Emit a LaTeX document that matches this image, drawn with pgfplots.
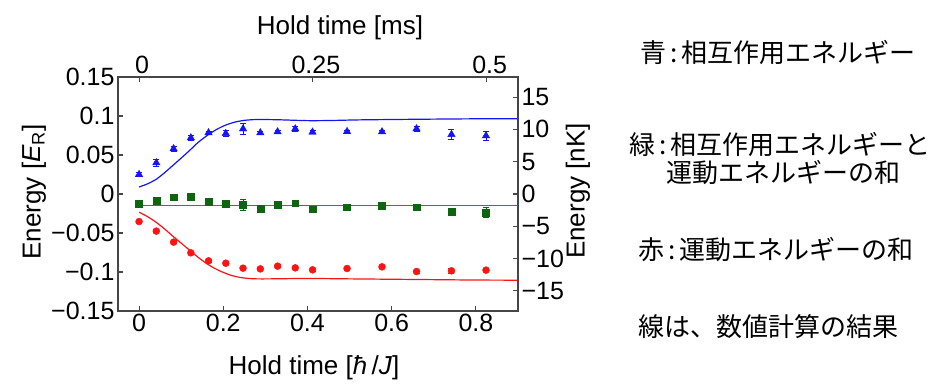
\documentclass[border=0pt]{standalone}
\usepackage{fontspec}
\setmainfont{Liberation Sans}
\newfontfamily\jp{Noto Sans CJK JP}
\usepackage{pgfplots}
\pgfplotsset{compat=1.18}
\definecolor{cblue}{RGB}{20,20,245}
\definecolor{cgreen}{RGB}{15,100,15}
\definecolor{linegreen}{RGB}{25,155,25}
\definecolor{cred}{RGB}{250,20,20}
\definecolor{axgray}{RGB}{70,70,70}
\begin{document}
\begin{tikzpicture}[x=1bp,y=1bp]
\useasboundingbox (0,0) rectangle (940,384);
\pgfplotsset{
  common/.style={
    scale only axis, width=400bp, height=234bp,
    at={(118bp,73bp)}, anchor=south west,
    axis line style={axgray, line width=1.1bp},
    tick style={axgray, line width=1.1bp},
    major tick length=5bp,
    tick align=inside,
    tick label style={font=\fontsize{25bp}{28bp}\selectfont},
    label style={font=\fontsize{26bp}{30bp}\selectfont},
  }
}
\begin{axis}[common,
  xmin=-0.05, xmax=0.9, ymin=-0.15, ymax=0.15,
  xtick={0,0.2,0.4,0.6,0.8}, xticklabels={0,0.2,0.4,0.6,0.8},
  ytick={-0.15,-0.1,-0.05,0,0.05,0.1,0.15},
  yticklabels={−0.15,−0.1,−0.05,0,0.05,0.1,0.15},
  xtick pos=bottom, ytick pos=left,
  xlabel={Hold time [\textit{ħ}\,/\textit{J}]},
  ylabel={Energy [\textit{E}\textsubscript{R}]},
  xlabel style={at={(axis description cs:0.49,-0.244)}, anchor=center},
  ylabel style={at={(axis description cs:-0.21,0.509)}, anchor=center},
  error bars/error bar style={line width=0.8bp},
  error bars/error mark options={rotate=90, mark size=3bp, line width=0.8bp},
]
% theory lines
\addplot[draw=cblue, line width=1.2bp, smooth] coordinates {
(0,0.009) (0.02,0.013) (0.04,0.0186) (0.06,0.027) (0.08,0.0365) (0.10,0.046) (0.12,0.0558) (0.14,0.066) (0.165,0.0763) (0.185,0.083) (0.205,0.0882) (0.225,0.0918) (0.247,0.0942) (0.27,0.0953) (0.29,0.0955) (0.33,0.0952) (0.37,0.0945) (0.41,0.0940) (0.46,0.0943) (0.52,0.0950) (0.6,0.0955) (0.7,0.0960) (0.8,0.0964) (0.9,0.0966)};
\addplot[draw=linegreen, line width=1.6bp] coordinates {(-0.008,-0.0145) (0.3,-0.0145) (0.6,-0.0145) (0.9,-0.0145)};
\addplot[draw=cred, line width=1.2bp, smooth] coordinates {
(0,-0.0233) (0.02,-0.029) (0.04,-0.036) (0.06,-0.0445) (0.08,-0.054) (0.10,-0.063) (0.12,-0.072) (0.14,-0.081) (0.16,-0.089) (0.18,-0.0955) (0.20,-0.1005) (0.22,-0.1045) (0.24,-0.107) (0.26,-0.1083) (0.28,-0.1088) (0.31,-0.1088) (0.4,-0.1083) (0.5,-0.1088) (0.6,-0.1093) (0.7,-0.1098) (0.8,-0.1103) (0.9,-0.1105)};
% blue triangles
\addplot[cblue, only marks, mark=triangle*, mark size=4.3bp, mark options={fill=cblue},
  error bars/.cd, y dir=both, y explicit] coordinates {
(0,0.025) +- (0,0.003)
(0.041,0.040) +- (0,0.004)
(0.082,0.058) +- (0,0.003)
(0.123,0.072) +- (0,0.003)
(0.165,0.0785) +- (0,0.002)
(0.206,0.0776) +- (0,0.004)
(0.247,0.0835) +- (0,0.007)
(0.288,0.0785) +- (0,0.002)
(0.329,0.0797) +- (0,0.002)
(0.371,0.0835) +- (0,0.003)
(0.412,0.0793) +- (0,0.002)
(0.494,0.0800) +- (0,0.002)
(0.577,0.0797) +- (0,0.002)
(0.659,0.0835) +- (0,0.003)
(0.742,0.0763) +- (0,0.006)
(0.824,0.0746) +- (0,0.0055)};
% green squares
\addplot[cgreen, only marks, mark=square*, mark size=3.4bp, mark options={fill=cgreen},
  error bars/.cd, y dir=both, y explicit] coordinates {
(0,-0.0122) +- (0,0.002)
(0.041,-0.0085) +- (0,0.004)
(0.082,-0.0041) +- (0,0.002)
(0.123,-0.0036) +- (0,0.002)
(0.165,-0.0096) +- (0,0.002)
(0.206,-0.0122) +- (0,0.003)
(0.247,-0.0139) +- (0,0.007)
(0.288,-0.0186) +- (0,0.002)
(0.329,-0.0139) +- (0,0.003)
(0.371,-0.0118) +- (0,0.004)
(0.412,-0.0195) +- (0,0.002)
(0.494,-0.0169) +- (0,0.002)
(0.577,-0.0147) +- (0,0.002)
(0.659,-0.0169) +- (0,0.002)
(0.742,-0.0229) +- (0,0.003)
(0.824,-0.0237) +- (0,0.0065)};
% red circles
\addplot[cred, only marks, mark=*, mark size=3.5bp, mark options={fill=cred},
  error bars/.cd, y dir=both, y explicit] coordinates {
(0,-0.0353) +- (0,0.002)
(0.041,-0.0476) +- (0,0.002)
(0.082,-0.0617) +- (0,0.002)
(0.123,-0.0754) +- (0,0.002)
(0.165,-0.0857) +- (0,0.002)
(0.206,-0.0887) +- (0,0.002)
(0.247,-0.0951) +- (0,0.002)
(0.288,-0.0960) +- (0,0.002)
(0.329,-0.0925) +- (0,0.002)
(0.371,-0.0947) +- (0,0.002)
(0.412,-0.0972) +- (0,0.002)
(0.494,-0.0955) +- (0,0.002)
(0.577,-0.0934) +- (0,0.002)
(0.659,-0.0994) +- (0,0.002)
(0.742,-0.0985) +- (0,0.003)
(0.824,-0.0976) +- (0,0.002)};
\end{axis}
\begin{axis}[common,
  xmin=-0.03028, xmax=0.54504, ymin=-18.105, ymax=18.105,
  xtick={0,0.25,0.5}, xticklabels={0,0.25,0.5},
  ytick={-15,-10,-5,0,5,10,15},
  yticklabels={−15,−10,−5,0,5,10,15},
  xtick pos=top, xticklabel pos=top,
  ytick pos=right, yticklabel pos=right,
  xticklabel style={xshift=3bp},
  xlabel={Hold time [ms]},
  ylabel={Energy [nK]},
  xlabel style={at={(axis description cs:0.555,1.209)}, anchor=center},
  ylabel style={at={(axis description cs:1.15,0.513)}, anchor=center},
]
\end{axis}
\node[anchor=west, font=\jp\fontsize{26bp}{30bp}\selectfont] at (637,331) {青\hspace{0.15em}:\hspace{0.15em}相互作用エネルギー};
\node[anchor=west, font=\jp\fontsize{26bp}{30bp}\selectfont] at (626,239) {緑\hspace{0.15em}:\hspace{0.15em}相互作用エネルギーと};
\node[anchor=west, font=\jp\fontsize{26bp}{30bp}\selectfont] at (663,211) {運動エネルギーの和};
\node[anchor=west, font=\jp\fontsize{26bp}{30bp}\selectfont] at (635,134) {赤\hspace{0.15em}:\hspace{0.15em}運動エネルギーの和};
\node[anchor=west, font=\jp\fontsize{26bp}{30bp}\selectfont] at (635,57) {線は、数値計算の結果};
\end{tikzpicture}
\end{document}
